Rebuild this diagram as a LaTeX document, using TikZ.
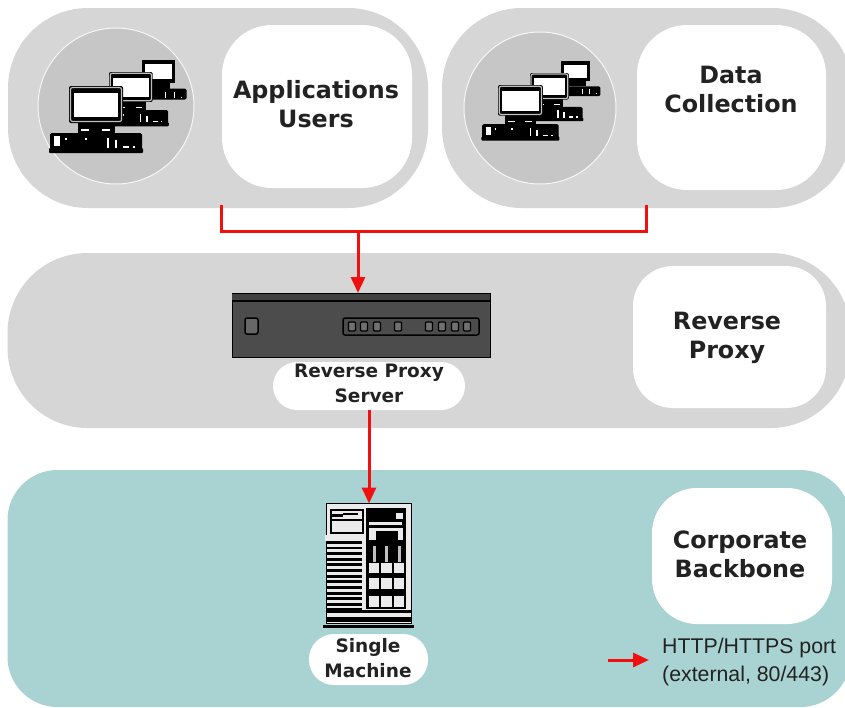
\documentclass[tikz,border=0pt]{standalone}
\usepackage{fontspec}
\setmainfont{DejaVu Sans}
\newfontfamily\legendfont{Liberation Sans}
\usetikzlibrary{arrows.meta}
\definecolor{panelgray}{HTML}{D6D6D6}
\definecolor{circlegray}{HTML}{C6C6C6}
\definecolor{panelteal}{HTML}{A9D3D3}
\definecolor{linkred}{HTML}{F01010}
\definecolor{srvgray}{HTML}{4C4C4C}
\definecolor{inktext}{HTML}{222222}
\tikzset{
  x=1pt,y=-1pt,
  panel/.style={fill=panelgray,inner sep=0,outer sep=0,rounded corners=#1},
  tealpanel/.style={fill=panelteal,inner sep=0,outer sep=0,rounded corners=#1},
  whitebox/.style={fill=white,inner sep=0,outer sep=0,rounded corners=#1},
  boxtext/.style={inner sep=0,align=center,text=inktext,font=\fontsize{23.8}{29}\selectfont\bfseries},
  pill/.style={fill=white,inner sep=0,outer sep=0,rounded corners=#1},
  pilltext/.style={inner sep=0,align=center,text=inktext,font=\fontsize{18.5}{25.5}\selectfont\bfseries},
  hostcircle/.style={circle,fill=circlegray,draw=white!85!circlegray,line width=1pt,inner sep=0,outer sep=0},
  link/.style={draw=linkred,line width=3pt},
  linkarrow/.style={link,-{Triangle[length=16pt,width=14pt]}},
  pics/pc/.style={code={
    \fill[black,rounded corners=1.5pt] (-19,47) rectangle (73,65);
    \fill[black,rounded corners=1pt] (-20,62) rectangle (74,67);
    \fill[white] (-15,50) rectangle (-9,60);
    \fill[white] (-4,52) rectangle (-2,54);
    \fill[white] (16,52) rectangle (18,54);
    \fill[white] (38,52) rectangle (40,62);
    \fill[white] (46,54) rectangle (48,62);
    \fill[white] (54,60) rectangle (60,62);
    \fill[white] (64,60) rectangle (66,62);
    \fill[black] (9,36) rectangle (46,47);
    \fill[white] (12,43) rectangle (20,45);
    \fill[white] (33,43) rectangle (41,45);
    \fill[black,rounded corners=2pt] (0,0) rectangle (54,37);
    \draw[white!75!black,line width=1.2pt,rounded corners=2pt] (1.5,1.5) rectangle (52.5,35.5);
    \fill[white] (5,7) rectangle (49,31);
  }},
  pics/backpc/.style={code={
    \fill[black,rounded corners=1.5pt] (-14,47) rectangle (73,65);
    \fill[white] (38,52) rectangle (40,62);
    \fill[white] (52,52) rectangle (54,62);
    \fill[white] (64,60) rectangle (66,62);
    \fill[black] (9,36) rectangle (46,47);
    \fill[black] (0,0) rectangle (54,37);
    \fill[white] (5,7) rectangle (49,31);
  }}
}
\begin{document}
\begin{tikzpicture}
\useasboundingbox (0,0) rectangle (845,707);
\fill[white] (0,0) rectangle (845,707);
% panels
\node[panel=80,minimum width=420pt,minimum height=200pt] (pusers) at (218,108) {};
\node[panel=80,minimum width=410pt,minimum height=200pt] (pdata) at (647,108) {};
\node[panel=80,minimum width=843pt,minimum height=175pt] (pproxy) at (429,340.5) {};
\node[tealpanel=50,minimum width=843pt,minimum height=237pt] (pcorp) at (429,588.5) {};
% host circles
\node[hostcircle,minimum size=156pt] (cusers) at (116,106) {};
\node[hostcircle,minimum size=152pt] (cdata) at (540,108) {};
% computers
\pic[scale=.61] at (142,60) {backpc};
\pic[scale=.81] at (109,72) {pc};
\pic at (69,86) {pc};
\pic[scale=.54] at (561,61) {backpc};
\pic[scale=.72] at (530,73) {pc};
\pic[scale=.83] at (498,85) {pc};
% white boxes
\node[whitebox=50,minimum width=190pt,minimum height=163pt] (bapp) at (317,106.5) {};
\node[whitebox=50,minimum width=189pt,minimum height=165pt] (bdata) at (731.5,107.5) {};
\node[whitebox=40,minimum width=193pt,minimum height=142pt] (bproxy) at (729.5,337) {};
\node[whitebox=45,minimum width=180pt,minimum height=136pt] (bcorp) at (742,556) {};
\node[boxtext] (tapp) at (316,104) {Applications\\Users};
\node[boxtext] (tdata) at (731,89) {Data\\Collection};
\node[boxtext] (tproxy) at (727,338) {Reverse\\Proxy};
\node[boxtext] (tcorp) at (740,554) {Corporate\\Backbone};
% server
\node[fill=srvgray,draw=black,line width=1pt,minimum width=258pt,minimum height=64pt,inner sep=0,outer sep=0] (server) at (361,325) {};
\fill[srvgray!85!black] (232,293) rectangle (490,301);
\draw[black,line width=1.5pt] (232,301) -- (490,301);
\draw[black,line width=1pt] (232,293) -- (490,293);
\draw[black,line width=1.5pt,fill=srvgray!85!white,rounded corners=2pt] (245,318) rectangle (258,334);
\draw[black,line width=1.5pt,fill=srvgray,rounded corners=2pt] (343,318) rectangle (479,335);
\foreach \px in {352,364,377,398,429,442,455,467}{
  \draw[black,line width=1.3pt,fill=srvgray!80!white,rounded corners=1pt] (\px-3.5,322) rectangle (\px+3.5,331);
}
\node[pill=24,minimum width=192pt,minimum height=48pt] (lserver) at (369,386) {};
\node[pilltext] (tserver) at (369,383.5) {Reverse Proxy\\Server};
% tower
\node[fill=white!92!black,draw=black,line width=1.5pt,minimum width=85pt,minimum height=120pt,inner sep=0,outer sep=0] (tower) at (369,563.5) {};
\fill[black] (323,625) rectangle (414,627.5);
\fill[black] (327,617) rectangle (411,621.5);
\fill[black] (327,610) rectangle (411,613);
\draw[black,line width=1.2pt,fill=white!92!black] (331,510) rectangle (363,533);
\fill[black] (332,514) rectangle (343,517);
\fill[black] (343,513) rectangle (358,515);
\fill[black] (332,519) rectangle (362,521);
\fill[white!92!black] (325,535) rectangle (328,541);
\foreach \ty in {541,546.5,552,558,563,569,575,580,586,592,597,603,608}{
  \fill[black] (327,\ty) rectangle (362,\ty+2.8);
}
\fill[black] (366,508) rectangle (406,609);
\fill[white!92!black] (396,513) rectangle (403,519);
\fill[white!92!black] (369,522) rectangle (402,525);
\fill[white!92!black] (369,531) rectangle (376,540);
\fill[white!92!black] (398,531) rectangle (403,540);
\fill[white!92!black] (369,528) rectangle (403,531);
\foreach \tx in {368.5,381,393.5}{
  \fill[white!92!black] (\tx,563) rectangle (\tx+10.5,573);
  \fill[white!92!black] (\tx,578) rectangle (\tx+10.5,589);
  \fill[white!92!black] (\tx,596) rectangle (\tx+10.5,606.5);
  \fill[white!75!black] (\tx+4,546) rectangle (\tx+7,562);
}
\node[pill=25,minimum width=119pt,minimum height=51pt] (lsingle) at (368.5,659.5) {};
\node[pilltext] (tsingle) at (368,658) {Single\\Machine};
% connectors
\coordinate (startusers) at (221,205);
\coordinate (startdata) at (646,205);
\coordinate (joinleft) at (221,231);
\coordinate (joinright) at (646,231);
\coordinate (joinmid) at (358,231);
\draw[link,line join=miter] (startusers) -- (joinleft) -- (joinright) -- (startdata);
\draw[linkarrow] (joinmid) -- (joinmid |- server.north);
\draw[linkarrow] (lserver.south) -- (tower.north);
% legend
\coordinate (legfrom) at (608,660);
\coordinate (legto) at (649,660);
\draw[linkarrow] (legfrom) -- (legto);
\node[inner sep=0,align=left,anchor=west,text=inktext,font=\legendfont\fontsize{21.3}{28}\selectfont] (legend) at (662,661.5) {HTTP/HTTPS port\\(external, 80/443)};
\end{tikzpicture}
\end{document}
